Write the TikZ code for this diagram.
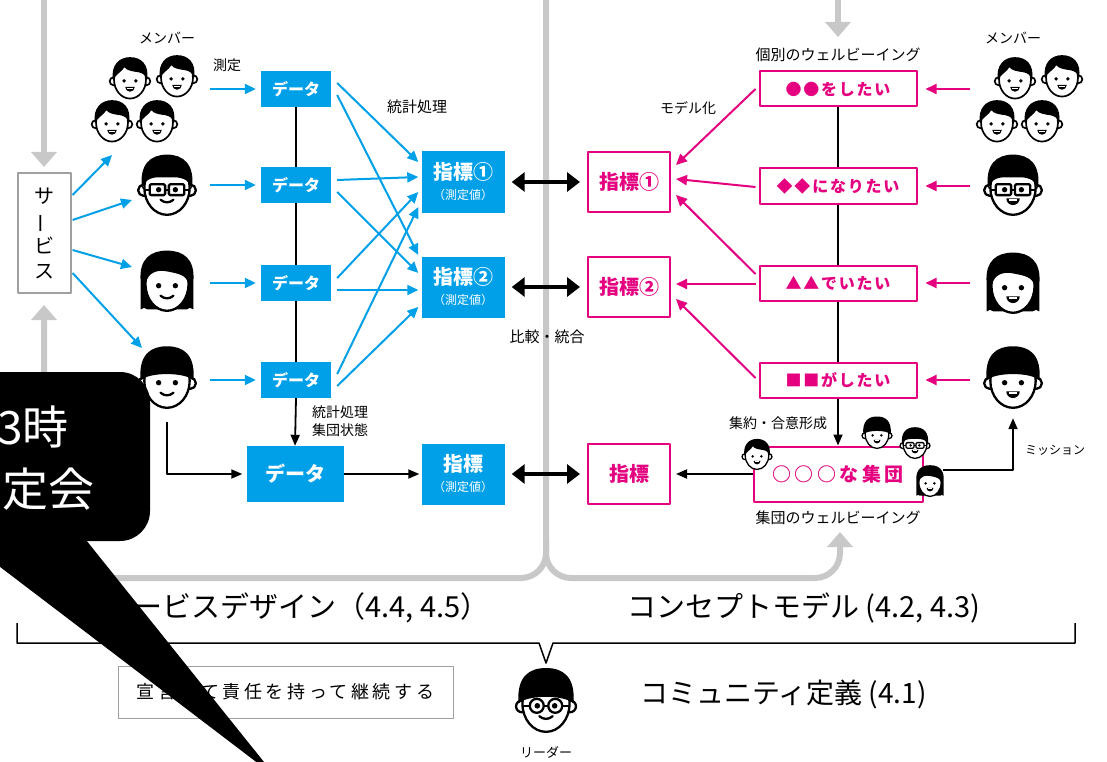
\documentclass[tikz,border=0pt]{standalone}
\usepackage{fontspec}
\setmainfont{Noto Sans CJK JP}
\usetikzlibrary{arrows.meta,calc}
\definecolor{cy}{HTML}{00A0E9}
\definecolor{pk}{HTML}{E4007F}
\definecolor{lg}{HTML}{C8C8C8}
\definecolor{bx}{HTML}{A0A0A0}
\newcommand\pxf[1]{\fontsize{#1}{#1}\selectfont}

% ---- face icon parts: unit = head radius, y axis pointing up ----
\newcommand\fHead{%
  \filldraw[fill=white] (-0.86,-0.12) circle[radius=0.21];
  \filldraw[fill=white] (0.86,-0.12) circle[radius=0.21];
  \filldraw[fill=white] (0,-0.03) ellipse[x radius=0.84, y radius=1];}
\newcommand\fFace{%
  \filldraw[fill=white] (0,-0.03) ellipse[x radius=0.8, y radius=1];}
\newcommand\fEyes{%
  \fill (-0.31,-0.1) circle[radius=0.1];
  \fill (0.31,-0.1) circle[radius=0.1];}
\newcommand\fGrin{%
  \fill (-0.25,-0.42) -- (0.25,-0.42) arc[start angle=0, end angle=-180, radius=0.25] -- cycle;
  \fill[white] (-0.14,-0.46) rectangle (0.14,-0.51);}
\newcommand\fSmile{%
  \draw[line cap=round] (-0.24,-0.47) .. controls (-0.1,-0.6) and (0.1,-0.6) .. (0.24,-0.47);}
\newcommand\hBoy{%
  \fill (-0.9,-0.05) .. controls (-1.02,0.75) and (-0.55,1.15) .. (0,1.15)
    .. controls (0.6,1.15) and (1.02,0.75) .. (0.9,-0.05)
    .. controls (0.82,0.2) and (0.68,0.32) .. (0.42,0.36)
    .. controls (0.12,0.4) and (-0.16,0.44) .. (-0.3,0.62)
    .. controls (-0.42,0.38) and (-0.72,0.28) .. (-0.9,-0.05) -- cycle;}
\newcommand\hFull{%
  \fill (-0.92,-0.08) .. controls (-1.05,0.85) and (-0.6,1.2) .. (0,1.2)
    .. controls (0.6,1.2) and (1.05,0.85) .. (0.92,-0.08)
    .. controls (0.86,0.22) and (0.62,0.36) .. (0.25,0.36)
    -- (-0.3,0.36) .. controls (-0.65,0.36) and (-0.85,0.22) .. (-0.92,-0.08) -- cycle;}
\newcommand\hBowl{%
  \fill (-0.98,-0.02) .. controls (-1.06,0.95) and (-0.6,1.25) .. (0,1.25)
    .. controls (0.6,1.25) and (1.06,0.95) .. (0.98,-0.02)
    .. controls (0.7,0.3) and (-0.7,0.3) .. (-0.98,-0.02) -- cycle;}
\newcommand\hGirlBack{%
  \fill (-0.98,-0.98) -- (-0.98,0.1) .. controls (-1.03,0.9) and (-0.6,1.2) .. (0,1.2)
    .. controls (0.6,1.2) and (1.03,0.9) .. (0.98,0.1) -- (0.98,-0.98)
    .. controls (0.9,-0.9) and (0.8,-0.9) .. (0.72,-0.98) -- (-0.72,-0.98)
    .. controls (-0.8,-0.9) and (-0.9,-0.9) .. (-0.98,-0.98) -- cycle;}
\newcommand\hGirlFront{%
  \fill (-0.8,-0.05) .. controls (-0.7,0.45) and (-0.3,0.5) .. (0.05,0.42)
    .. controls (0.45,0.34) and (0.72,0.3) .. (0.8,-0.05)
    .. controls (0.85,0.6) and (0.5,0.98) .. (0,1)
    .. controls (-0.5,0.98) and (-0.85,0.6) .. (-0.8,-0.05) -- cycle;}
\newcommand\gRect{%
  \draw[rounded corners=1.2pt, fill=white] (-0.64,-0.3) rectangle (-0.07,0.1);
  \draw[rounded corners=1.2pt, fill=white] (0.07,-0.3) rectangle (0.64,0.1);
  \draw (-0.07,-0.1) -- (0.07,-0.1) (-0.64,-0.1) -- (-0.84,-0.1) (0.64,-0.1) -- (0.84,-0.1);}
\newcommand\gRound{%
  \draw[fill=white] (-0.33,-0.1) circle[radius=0.25] (0.33,-0.1) circle[radius=0.25];
  \draw (-0.08,-0.1) -- (0.08,-0.1) (-0.58,-0.1) -- (-0.84,-0.1) (0.58,-0.1) -- (0.84,-0.1);}
% whole faces
\newcommand\faceBoy{\fHead\hBoy\fEyes\fGrin}
\newcommand\faceSpecsA{\fHead\hFull\gRect\fEyes\fSmile}
\newcommand\faceSpecsB{\fHead\hFull\gRect\fEyes\fGrin}
\newcommand\faceGirlA{\hGirlBack\fFace\hGirlFront\fEyes\fSmile}
\newcommand\faceGirlB{\hGirlBack\fFace\hGirlFront\fEyes\fGrin}
\newcommand\faceBowlA{\fHead\hBowl\fEyes\fSmile}
\newcommand\faceBowlB{\fHead\hBowl\fEyes\fGrin}
\newcommand\faceLeader{\fHead\hBowl\gRound\fEyes\fSmile}
% place a face: position, size style, face
\newcommand\putface[3]{\begin{scope}[shift={#1},#2]#3\end{scope}}

\tikzset{
  fbig/.style={scale=27, yscale=-1, line width=2.3},
  fmid/.style={scale=19, yscale=-1, line width=1.7},
  fsml/.style={scale=14, yscale=-1, line width=1.3},
  fldr/.style={scale=28, yscale=-1, line width=2.3},
  % ---- boxes ----
  spot/.style={inner sep=0, minimum width=58, minimum height=64},
  svbox/.style={draw=bx, line width=1.2, fill=white, minimum width=53, minimum height=120,
    inner sep=0, align=center, font={\fontsize{20}{25}\selectfont}},
  dbox/.style={fill=cy, text=white, font={\bfseries\pxf{16}}, minimum width=70, minimum height=36, inner sep=0},
  ibox/.style={fill=cy, text=white, minimum width=83, minimum height=61, inner sep=0, align=center,
    font={\fontsize{20}{20}\selectfont}},
  pbox/.style={draw=pk, line width=2, fill=white, text=pk, font={\bfseries\pxf{20}},
    minimum width=82, minimum height=60, inner sep=0},
  wbox/.style={draw=pk, line width=2, fill=white, text=pk,
    font={\bfseries\pxf{16}\addfontfeatures{LetterSpace=11}}, minimum width=157, minimum height=35, inner sep=0},
  lbl/.style={inner sep=0, font={\pxf{14}}},
  % ---- connectors ----
  barr/.style={cy, line width=2, -{Triangle[length=11pt,width=10pt]}},
  parr/.style={pk, line width=2, -{Triangle[length=11pt,width=10pt]}},
  karr/.style={black, line width=1.8, -{Triangle[length=11pt,width=9pt]}},
  kline/.style={black, line width=1.8},
  dbl/.style={black, line width=4, {Triangle[length=13pt,width=19pt]}-{Triangle[length=13pt,width=19pt]},
    shorten <=7pt, shorten >=7pt},
  garr/.style={lg, line width=6, rounded corners=25pt, -{Triangle[length=15pt,width=25pt]}},
}

\begin{document}
\begin{tikzpicture}[x=1pt, y=-1pt, line join=round]
\useasboundingbox (0,0) rectangle (1107,762);
\fill[white] (0,0) rectangle (1107,762);
\clip (0,0) rectangle (1107,762);

% ---- grey flow of the two design areas ----
\draw[garr] (44,-5) -- (44,167);
\draw[garr] (838,-5) -- (838,37);
\draw[garr] (546,-5) -- (546,578) -- (44,578) -- (44,305);
\draw[garr] (546,540) -- (546,578) -- (840,578) -- (840,532);

% ---- left: service and members ----
\node[svbox] (sv) at (44.5,233) {サ\\\rotatebox[origin=c]{90}{ー}\\ビ\\ス};
\node[spot, minimum width=100, minimum height=85] (mL) at (145,98) {};
\node[spot] (fL2) at (167,187) {};
\node[spot] (fL3) at (167,283) {};
\node[spot] (fL4) at (167,380) {};
\node[lbl] (mLt) at (167,38) {メンバー};
\node[lbl] (meas) at (227,65) {測定};

\putface{(130,79)}{fmid}{\faceBoy}
\putface{(177,77)}{fmid}{\faceBoy}
\putface{(112,122)}{fmid}{\faceBoy}
\putface{(157,122)}{fmid}{\faceBoy}
\putface{(fL2)}{fbig}{\faceSpecsA}
\putface{(fL3)}{fbig}{\faceGirlA}
\putface{(fL4)}{fbig}{\faceBowlA}

% ---- data and measured indices ----
\node[dbox] (d1) at (296,89) {データ};
\node[dbox] (d2) at (296,185) {データ};
\node[dbox] (d3) at (296,283) {データ};
\node[dbox] (d4) at (296,380) {データ};
\node[dbox, minimum width=97, minimum height=56, font={\bfseries\pxf{20}}] (dB) at (295,474) {データ};
\node[ibox] (i1) at (463,182) {\bfseries 指標①\\\fontsize{12}{20}\selectfont （測定値）};
\node[ibox] (i2) at (463,287) {\bfseries 指標②\\\fontsize{12}{20}\selectfont （測定値）};
\node[ibox] (iB) at (463,474) {\bfseries 指標\\\fontsize{12}{20}\selectfont （測定値）};
\node[lbl, font={\pxf{15}}] (stat) at (417,107) {統計処理};
\node[lbl, anchor=west, align=left, font={\fontsize{14}{18}\selectfont}] (stat2) at (312,421) {統計処理\\集団状態};

% ---- concept model side ----
\node[pbox] (p1) at (629,182) {指標①};
\node[pbox] (p2) at (629,287) {指標②};
\node[pbox] (pB) at (629,474) {指標};
\node[lbl, font={\pxf{15}}] (cmp) at (547,337) {比較・統合};
\node[lbl] (mdl) at (688,108) {モデル化};

\node[wbox] (w1) at (838,89) {●●をしたい};
\node[wbox] (w2) at (838,186) {◆◆になりたい};
\node[wbox] (w3) at (838,283) {▲▲でいたい};
\node[wbox] (w4) at (838,380) {■■がしたい};
\node[wbox, minimum width=169, minimum height=55, font={\bfseries\pxf{19}\addfontfeatures{LetterSpace=18}}] (g) at (838,474) {○○○な集団};
\node[lbl, font={\pxf{15}}] (wlt) at (838,55) {個別のウェルビーイング};
\node[lbl, font={\pxf{15}}] (glt) at (838,518) {集団のウェルビーイング};
\node[lbl] (agr) at (778,423) {集約・合意形成};

\node[spot, minimum width=100, minimum height=85] (mR) at (1030,98) {};
\node[spot] (fR2) at (1013,187) {};
\node[spot] (fR3) at (1013,285) {};
\node[spot] (fR4) at (1013,380) {};
\node[lbl] (mRt) at (1013,38) {メンバー};
\node[lbl, font={\pxf{12}}] (msn) at (1055,450) {ミッション};

\putface{(1015,79)}{fmid}{\faceBoy}
\putface{(1062,77)}{fmid}{\faceBoy}
\putface{(997,122)}{fmid}{\faceBoy}
\putface{(1042,122)}{fmid}{\faceBoy}
\putface{(fR2)}{fbig}{\faceSpecsB}
\putface{(fR3)}{fbig}{\faceGirlB}
\putface{(fR4)}{fbig}{\faceBowlB}

% ---- connectors, left half ----
\draw[barr] ($(sv.east)+(1,-38)$) -- ($(mL)+(-33,57)$);
\draw[barr] ($(sv.east)+(1,-13)$) -- ($(fL2)+(-35,13)$);
\draw[barr] ($(sv.east)+(1,17)$) -- ($(fL3)+(-35,-16)$);
\draw[barr] ($(sv.east)+(1,40)$) -- ($(fL4)+(-25,-32)$);

\draw[barr, shorten >=5pt] ($(mL.east |- d1.west)+(15,0)$) -- (d1.west);
\draw[barr, shorten >=5pt] ($(fL2.east |- d2.west)+(14,0)$) -- (d2.west);
\draw[barr, shorten >=5pt] ($(fL3.east |- d3.west)+(14,0)$) -- (d3.west);
\draw[barr, shorten >=5pt] ($(fL4.east |- d4.west)+(14,0)$) -- (d4.west);

\draw[kline] (d1.south) -- (d2.north);
\draw[kline] (d2.south) -- (d3.north);
\draw[kline] (d3.south) -- (d4.north);
\draw[karr] (d4.south) -- (dB.north);
\draw[karr, shorten >=4pt] ($(fL4.south)+(0,10)$) |- (dB.west);
\draw[karr, shorten >=2pt] (dB.east) -- (iB.west);

\draw[barr] ($(d1.east)+(6,-6)$) -- ($(i1.west)+(-3,-20)$);
\draw[barr] ($(d1.east)+(6,6)$) -- ($(i2.west)+(-3,-32)$);
\draw[barr] ($(d2.east)+(6,-5)$) -- ($(i1.west)+(-3,-5)$);
\draw[barr] ($(d2.east)+(6,7)$) -- ($(i2.west)+(-3,-14)$);
\draw[barr] ($(d3.east)+(6,-5)$) -- ($(i1.west)+(-3,10)$);
\draw[barr] ($(d3.east)+(6,7)$) -- ($(i2.west)+(-3,3)$);
\draw[barr] ($(d4.east)+(6,-6)$) -- ($(i1.west)+(-3,25)$);
\draw[barr] ($(d4.east)+(6,6)$) -- ($(i2.west)+(-3,20)$);

\draw[dbl] (i1.east) -- (p1.west);
\draw[dbl] (i2.east) -- (p2.west);
\draw[dbl] (iB.east) -- (pB.west);

% ---- connectors, right half ----
\draw[parr, shorten >=8pt] ($(mR.west |- w1.east)+(-10,0)$) -- (w1.east);
\draw[parr, shorten >=8pt] ($(fR2.west |- w2.east)+(-14,0)$) -- (w2.east);
\draw[parr, shorten >=8pt] ($(fR3.west |- w3.east)+(-14,0)$) -- (w3.east);
\draw[parr, shorten >=8pt] ($(fR4.west |- w4.east)+(-14,0)$) -- (w4.east);

\draw[kline] (w1.south) -- (w2.north);
\draw[kline] (w2.south) -- (w3.north);
\draw[kline] (w3.south) -- (w4.north);
\draw[karr] (w4.south) -- (g.north);
\draw[karr, shorten >=5pt] (g.west) -- (pB.east);

\draw[parr] ($(w1.west)+(-3,0)$) -- ($(p1.east)+(5,-17)$);
\draw[parr] ($(w2.west)+(-3,1)$) -- ($(p1.east)+(5,-3)$);
\draw[parr] ($(w3.west)+(-3,-9)$) -- ($(p1.east)+(5,13)$);
\draw[parr] ($(w3.west)+(-3,1)$) -- ($(p2.east)+(5,-3)$);
\draw[parr] ($(w4.west)+(-3,-2)$) -- ($(p2.east)+(5,12)$);

% members around the group box
\node[spot, minimum width=30, minimum height=32] (gs1) at (877,434) {};
\node[spot, minimum width=30, minimum height=32] (gs2) at (915,444) {};
\node[spot, minimum width=30, minimum height=32] (gs3) at (930,482) {};
\node[spot, minimum width=30, minimum height=32] (gs4) at (757,455) {};
\draw[karr] ($(gs3.east)+(-2,-12)$) -| ($(fR4.south)+(0,6)$);
\putface{(gs1)}{fsml}{\faceBowlB}
\putface{(gs2)}{fsml}{\faceSpecsB}
\putface{(gs3)}{fsml}{\faceGirlB}
\putface{(gs4)}{fsml}{\faceBoy}

% ---- bottom: areas, bracket and leader ----
\node[inner sep=0, anchor=east, font={\pxf{29}}] (sdl) at (490,608) {サービスデザイン（4.4, 4.5）};
\node[inner sep=0, anchor=west, font={\pxf{29}}] (cml) at (627,608) {コンセプトモデル (4.2, 4.3)};
\draw[line width=1.5] (17,623) -- (17,643) -- (539,643) -- (546,663) -- (553,643) -- (1075,643) -- (1075,623);
\node[draw=bx, line width=1, minimum width=335, minimum height=52, inner sep=0,
  font={\pxf{18}\addfontfeatures{LetterSpace=20}}] (decl) at (285.5,692) {宣言して責任を持って継続する};
\node[spot] (ldr) at (546,703) {};
\putface{(ldr)}{fldr}{\faceLeader}
\node[lbl, font={\pxf{13}}] (ldrt) at (546,752) {リーダー};
\node[inner sep=0, anchor=west, font={\pxf{28}}] (cdl) at (640,694) {コミュニティ定義 (4.1)};

% ---- speech bubble in front ----
\fill[black, rounded corners=30pt] (-60,372) rectangle (150,541);
\fill[black] (78,530) -- (276,777) -- (-30,544) -- (-30,530) -- cycle;
\node[text=white, inner sep=0, anchor=east, font={\pxf{46}}] (bub1) at (69,427) {3時};
\node[text=white, inner sep=0, anchor=east, font={\pxf{46}}] (bub2) at (95,489) {定会};
\end{tikzpicture}
\end{document}
